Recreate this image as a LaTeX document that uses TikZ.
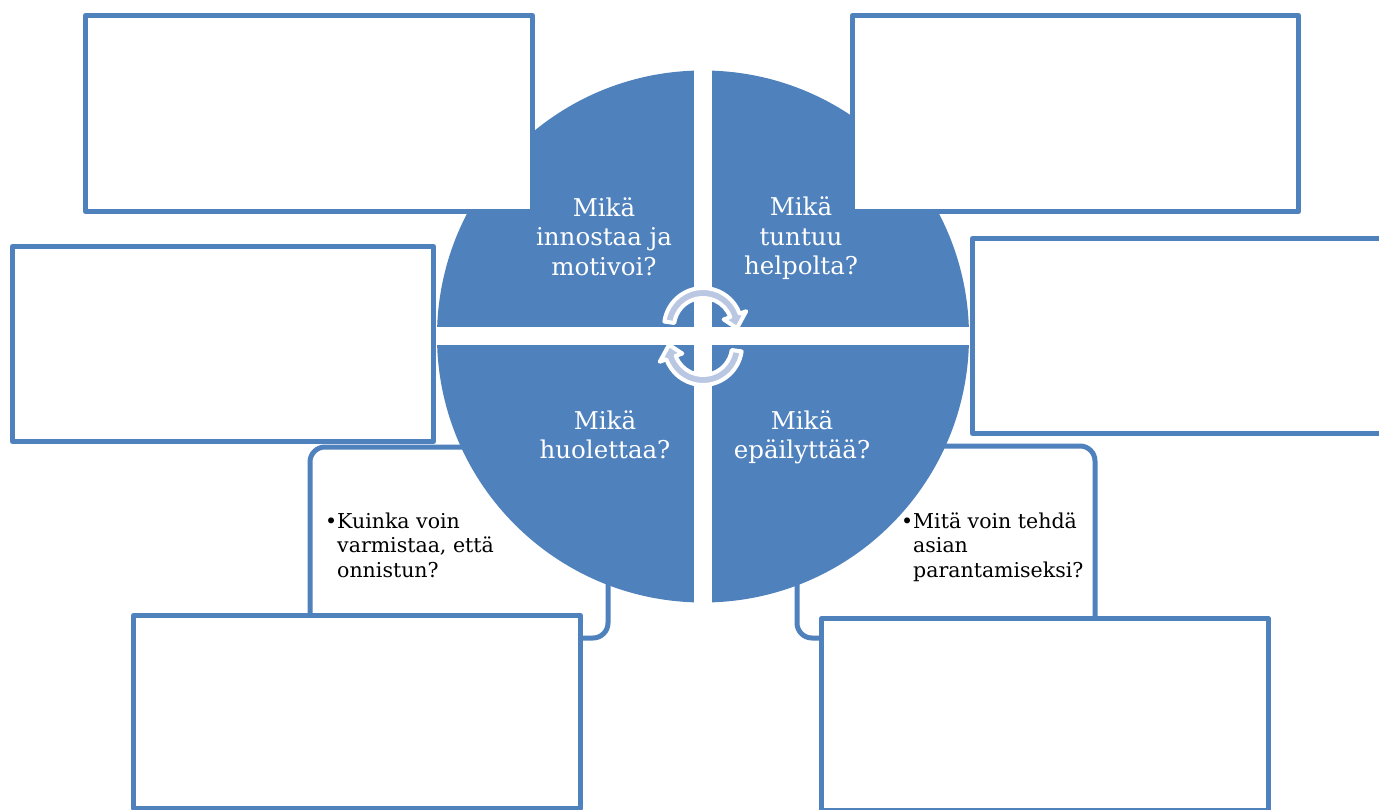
\documentclass[tikz,border=0pt]{standalone}
\usepackage{fontspec}
\setmainfont{DejaVu Serif}
\usetikzlibrary{calc}
\definecolor{pieblue}{RGB}{79,129,189}
\definecolor{turnfill}{RGB}{186,199,226}

\begin{document}
\begin{tikzpicture}[x=1pt,y=1pt]
\tikzstyle{every node}+=[inner sep=0pt]
\tikzstyle{answerbox}=[draw=pieblue,line width=5pt,line join=round,fill=white,rectangle]
\tikzstyle{askbox}=[draw=pieblue,line width=5pt,fill=white,rectangle,rounded corners=15pt]
\tikzstyle{quarter}=[text=white,font=\fontsize{24.5}{29.5}\selectfont,anchor=base]
\tikzstyle{asktext}=[text=black,font=\fontsize{20.5}{24.5}\selectfont,anchor=base west]
\tikzstyle{turnarrow}=[fill=turnfill,draw=white,line width=4pt,line join=round]
\useasboundingbox (0,0) rectangle (1379,-810);
\clip (0,0) rectangle (1379,-810);
\node [askbox,minimum width=298pt,minimum height=191pt] (askL) at (459,-542.5) {};
\node [askbox,minimum width=298pt,minimum height=192pt] (askR) at (946,-542) {};
\coordinate (pie) at (703,-336.5);
\fill [pieblue] (pie) circle (266);
\fill [white] (694,-70) rectangle (712,-603);
\fill [white] (436,-327) rectangle (970,-345);
\coordinate (turnA) at (703,-327);
\coordinate (turnB) at (703,-346);
\path [turnarrow] ($(turnA)+(172:39)$) arc [start angle=172,end angle=20,radius=39] -- ($(turnA)+(20:46)$) -- ($(turnA)+(-2:34)$) -- ($(turnA)+(20:22)$) -- ($(turnA)+(20:29)$) arc [start angle=20,end angle=172,radius=29] -- cycle;
\path [turnarrow] ($(turnB)+(-8:39)$) arc [start angle=-8,end angle=-160,radius=39] -- ($(turnB)+(-160:46)$) -- ($(turnB)+(-182:34)$) -- ($(turnB)+(-160:22)$) -- ($(turnB)+(-160:29)$) arc [start angle=-160,end angle=-8,radius=29] -- cycle;
\node [quarter] (qTL) at (604,-216.5) {\begin{tabular}[t]{@{}c@{}}Mikä\\innostaa ja\\motivoi?\end{tabular}};
\node [quarter] (qTR) at (801,-216) {\begin{tabular}[t]{@{}c@{}}Mikä\\tuntuu\\helpolta?\end{tabular}};
\node [quarter] (qBL) at (605,-429) {\begin{tabular}[t]{@{}c@{}}Mikä\\huolettaa?\end{tabular}};
\node [quarter] (qBR) at (802,-429) {\begin{tabular}[t]{@{}c@{}}Mikä\\epäilyttää?\end{tabular}};
\node [asktext] (kL) at (337,-528) {\llap{\textbullet}\begin{tabular}[t]{@{}l@{}}Kuinka voin\\varmistaa, että\\onnistun?\end{tabular}};
\node [asktext] (kR) at (913,-528) {\llap{\textbullet}\begin{tabular}[t]{@{}l@{}}Mitä voin tehdä\\asian\\parantamiseksi?\end{tabular}};
\node [answerbox,minimum width=447pt,minimum height=196pt] (aTL) at (309,-113.5) {};
\node [answerbox,minimum width=421pt,minimum height=195pt] (aL) at (223,-344) {};
\node [answerbox,minimum width=446pt,minimum height=196pt] (aTR) at (1075.5,-113.5) {};
\node [answerbox,minimum width=445pt,minimum height=195pt] (aR) at (1195,-336) {};
\node [answerbox,minimum width=447pt,minimum height=193pt] (aBL) at (357,-712) {};
\node [answerbox,minimum width=447pt,minimum height=192pt] (aBR) at (1045,-714.5) {};
\end{tikzpicture}
\end{document}
